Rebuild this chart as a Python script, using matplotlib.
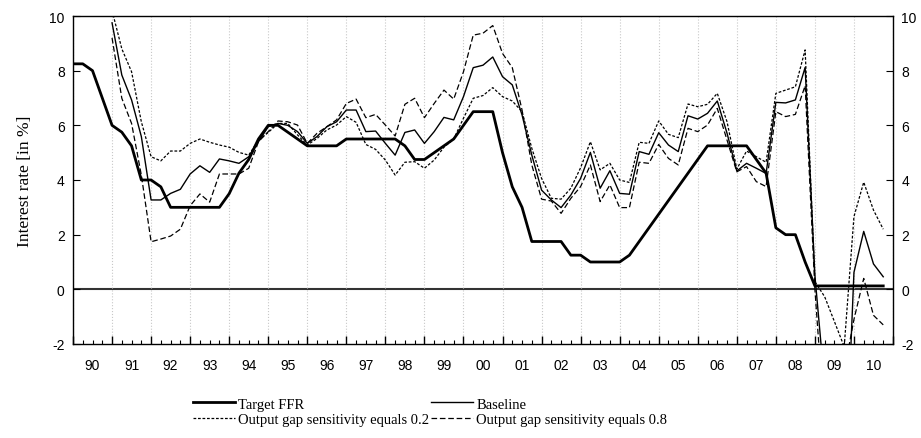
import numpy as np
import matplotlib
matplotlib.use('Agg')
import matplotlib.pyplot as plt
from matplotlib.ticker import FixedLocator, FuncFormatter

plt.rcParams['axes.unicode_minus'] = False

# quarterly data, 1990Q1 - 2010Q4
years = ['90', '91', '92', '93', '94', '95', '96', '97', '98', '99', '00',
         '01', '02', '03', '04', '05', '06', '07', '08', '09', '10']
nan = np.nan

target_ffr = [8.25, 8.25, 8.0, 7.0, 6.0, 5.75, 5.25, 4.0, 4.0, 3.75, 3.0, 3.0,
              3.0, 3.0, 3.0, 3.0, 3.5, 4.25, 4.75, 5.5, 6.0, 6.0, 5.75, 5.5,
              5.25, 5.25, 5.25, 5.25, 5.5, 5.5, 5.5, 5.5, 5.5, 5.5, 5.25, 4.75,
              4.75, 5.0, 5.25, 5.5, 6.0, 6.5, 6.5, 6.5, 5.0, 3.75, 3.0, 1.75,
              1.75, 1.75, 1.75, 1.25, 1.25, 1.0, 1.0, 1.0, 1.0, 1.25, 1.75, 2.25,
              2.75, 3.25, 3.75, 4.25, 4.75, 5.25, 5.25, 5.25, 5.25, 5.25, 4.75, 4.25,
              2.25, 2.0, 2.0, 1.0, 0.125, 0.125, 0.125, 0.125, 0.125, 0.125, 0.125, 0.125]

baseline = [nan, nan, nan, nan, 9.75, 7.84, 6.93, 5.59, 3.27, 3.27, 3.51, 3.66,
            4.22, 4.52, 4.28, 4.77, 4.7, 4.61, 4.85, 5.4, 5.95, 6.07, 6.0, 5.77,
            5.34, 5.59, 5.95, 6.13, 6.56, 6.56, 5.77, 5.79, 5.34, 4.91, 5.74, 5.83,
            5.34, 5.77, 6.29, 6.2, 7.05, 8.11, 8.2, 8.5, 7.78, 7.48, 6.38, 4.91,
            3.63, 3.27, 2.99, 3.45, 4.06, 5.01, 3.7, 4.34, 3.51, 3.48, 5.04, 4.94,
            5.73, 5.28, 5.04, 6.35, 6.23, 6.44, 6.89, 5.71, 4.33, 4.61, 4.43, 4.24,
            6.84, 6.82, 6.93, 8.12, 0.5, -3.5, -5.0, -8.0, 0.62, 2.12, 0.93, 0.46]

gap_02 = [nan, nan, nan, nan, 10.2, 8.8, 7.96, 6.13, 4.85, 4.7, 5.06, 5.06,
          5.34, 5.5, 5.38, 5.28, 5.2, 5.01, 4.91, 5.46, 5.74, 6.07, 6.07, 5.65,
          5.28, 5.52, 5.83, 6.01, 6.32, 6.11, 5.3, 5.12, 4.73, 4.18, 4.65, 4.67,
          4.43, 4.73, 5.2, 5.5, 6.26, 6.99, 7.09, 7.38, 7.05, 6.89, 6.5, 5.16,
          4.06, 3.33, 3.3, 3.7, 4.45, 5.4, 4.37, 4.61, 4.0, 3.91, 5.38, 5.34,
          6.16, 5.67, 5.55, 6.78, 6.68, 6.77, 7.17, 6.13, 4.4, 5.06, 4.85, 4.65,
          7.17, 7.29, 7.41, 8.76, 0.28, -0.27, -1.18, -2.1, 2.66, 3.92, 2.9, 2.2]

gap_08 = [nan, nan, nan, nan, 9.2, 6.99, 6.07, 4.18, 1.74, 1.84, 1.95, 2.2,
          3.06, 3.49, 3.19, 4.22, 4.22, 4.22, 4.43, 5.4, 5.77, 6.16, 6.13, 6.01,
          5.34, 5.71, 5.95, 6.2, 6.8, 6.96, 6.28, 6.4, 6.01, 5.61, 6.77, 6.99,
          6.28, 6.8, 7.29, 6.96, 7.96, 9.3, 9.37, 9.65, 8.63, 8.11, 6.56, 4.55,
          3.3, 3.23, 2.78, 3.33, 3.76, 4.55, 3.21, 3.82, 2.99, 2.99, 4.65, 4.61,
          5.3, 4.79, 4.55, 5.89, 5.77, 6.01, 6.62, 5.46, 4.3, 4.49, 3.94, 3.76,
          6.5, 6.32, 6.4, 7.45, 0.0, -5.0, -7.0, -3.0, -1.1, 0.4, -0.95, -1.3]

q = np.arange(len(target_ffr))

fig = plt.figure(figsize=(9.21, 4.39), dpi=100)
ax = fig.add_axes([73 / 921, 1 - 345 / 439, 820 / 921, 328 / 439])

l1, = ax.plot(q, target_ffr, color='black', lw=2.0, label='Target FFR')
l2, = ax.plot(q, baseline, color='black', lw=1.0, label='Baseline')
l3, = ax.plot(q, gap_02, color='black', lw=0.9, dashes=(2.2, 1.4),
              label='Output gap sensitivity equals 0.2')
l4, = ax.plot(q, gap_08, color='black', lw=0.9, dashes=(4.5, 2.2),
              label='Output gap sensitivity equals 0.8')

ax.axhline(0, color='#333333', lw=1.5, zorder=1)

ax.set_xlim(0, 84)
ax.set_ylim(-2, 10)
ax.set_yticks(np.arange(-2, 11, 2))

# year boundaries (major) and quarters (minor), year labels in the middle
ax.xaxis.set_major_locator(FixedLocator(np.arange(0, 85, 4)))
ax.xaxis.set_major_formatter(FuncFormatter(lambda v, p: ''))
ax.xaxis.set_minor_locator(FixedLocator(np.arange(0, 85, 1)))
ax.xaxis.set_minor_formatter(FuncFormatter(
    lambda v, p: years[int(round(v)) // 4] if int(round(v)) % 4 == 2 and int(round(v)) // 4 < len(years) else ''))

ax.tick_params(axis='x', which='major', direction='in', length=6, width=1, labelsize=10, pad=10)
ax.tick_params(axis='x', which='minor', direction='in', length=3, width=0.8, labelsize=10, pad=10)
ax.tick_params(axis='y', direction='in', length=5, width=0.8, labelsize=10,
               left=True, right=True, labelleft=True, labelright=True, pad=6)
for lab in ax.get_xticklabels(minor=True) + ax.get_yticklabels():
    lab.set_family('Liberation Sans')
for t in ax.yaxis.get_major_ticks():
    t.label2.set_family('Liberation Sans')

ax.grid(axis='x', which='major', color='#c8c8c8', ls=':', lw=0.8)
for s in ax.spines.values():
    s.set_linewidth(1.0)

ax.set_ylabel('Interest rate [in %]', family='Liberation Serif', fontsize=12.5, labelpad=12)

fig.legend([l1, l3, l2, l4], [l1.get_label(), l3.get_label(), l2.get_label(), l4.get_label()],
           ncol=2, loc='center', bbox_to_anchor=(0.467, 0.06), frameon=False,
           prop={'family': 'Liberation Serif', 'size': 10.5}, handlelength=2.9,
           handletextpad=0.2, columnspacing=0.15, labelspacing=0.15)

fig.savefig('out.png', dpi=100)
